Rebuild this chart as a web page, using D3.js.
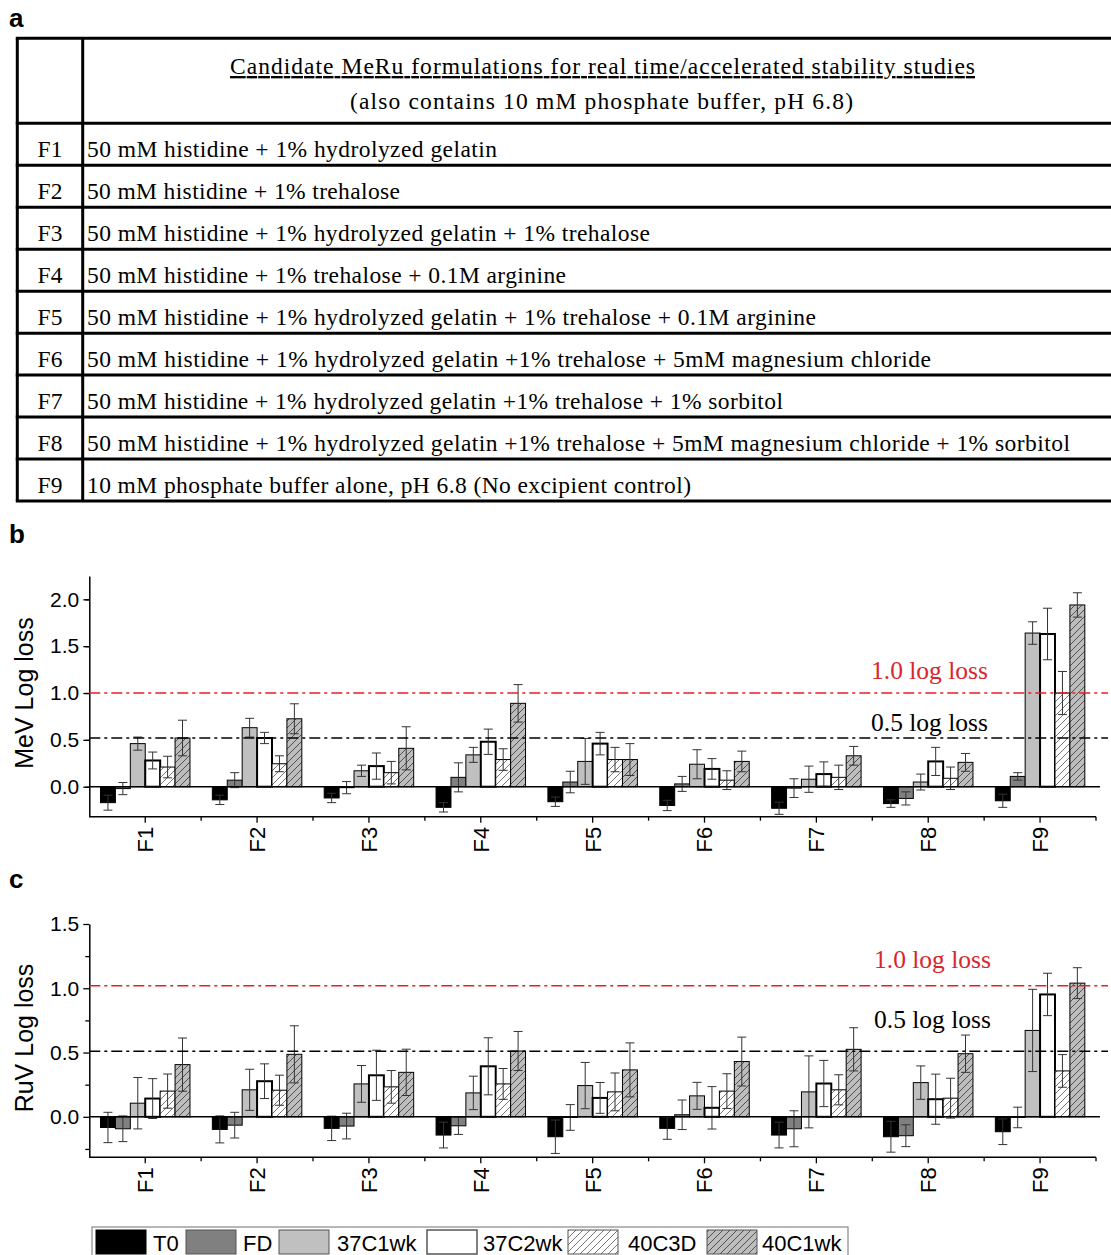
<!DOCTYPE html>
<html>
<head>
<meta charset="utf-8">
<script src="https://cdn.jsdelivr.net/npm/d3@7"></script>
<style>
  body { margin: 0; background: #fff; }
  svg { display: block; }
</style>
</head>
<body>
<svg id="fig" width="1111" height="1255"></svg>
<script>
// formulations and the storage conditions (series)
var categories = ["F1", "F2", "F3", "F4", "F5", "F6", "F7", "F8", "F9"];
var series = ["T0", "FD", "37C1wk", "37C2wk", "40C3D", "40C1wk"];

var formulations = [
  "50 mM histidine + 1% hydrolyzed gelatin",
  "50 mM histidine + 1% trehalose",
  "50 mM histidine + 1% hydrolyzed gelatin + 1% trehalose",
  "50 mM histidine + 1% trehalose + 0.1M arginine",
  "50 mM histidine + 1% hydrolyzed gelatin + 1% trehalose + 0.1M arginine",
  "50 mM histidine + 1% hydrolyzed gelatin +1% trehalose + 5mM magnesium chloride",
  "50 mM histidine + 1% hydrolyzed gelatin +1% trehalose + 1% sorbitol",
  "50 mM histidine + 1% hydrolyzed gelatin +1% trehalose + 5mM magnesium chloride + 1% sorbitol",
  "10 mM phosphate buffer alone, pH 6.8 (No excipient control)"
];
var formulationWidths = [410, 313, 563, 479, 729, 844, 696, 983, 604];
var headerTitle = "Candidate MeRu formulations  for real time/accelerated  stability  studies";
var headerSub = "(also contains 10 mM phosphate buffer, pH 6.8)";

// panel b: MeV log loss, one row per series, one value per formulation
var mevMean = [
  [-0.17, -0.14, -0.12, -0.22, -0.16, -0.20, -0.23, -0.18, -0.15],
  [-0.02,  0.07, -0.01,  0.10,  0.05,  0.03, -0.015, -0.125, 0.11],
  [ 0.46,  0.63,  0.17,  0.34,  0.27,  0.24,  0.08,  0.05,  1.64],
  [ 0.28,  0.52,  0.22,  0.48,  0.46,  0.19,  0.135, 0.27,  1.63],
  [ 0.21,  0.245, 0.15,  0.29,  0.29,  0.07,  0.10,  0.09,  1.00],
  [ 0.52,  0.725, 0.41,  0.89,  0.29,  0.27,  0.33,  0.26,  1.94]
];
var mevErr = [
  [0.08, 0.05, 0.05, 0.05, 0.05, 0.055, 0.065, 0.04, 0.07],
  [0.065, 0.08, 0.065, 0.155, 0.115, 0.08, 0.10, 0.07, 0.04],
  [0.07, 0.10, 0.06, 0.08, 0.245, 0.155, 0.14, 0.085, 0.12],
  [0.09, 0.06, 0.14, 0.135, 0.12, 0.11, 0.13, 0.15, 0.275],
  [0.115, 0.085, 0.12, 0.115, 0.13, 0.10, 0.13, 0.12, 0.23],
  [0.19, 0.16, 0.23, 0.20, 0.17, 0.11, 0.10, 0.095, 0.13]
];

// panel c: RuV log loss
var ruvMean = [
  [-0.083, -0.098, -0.09, -0.142, -0.155, -0.09, -0.142, -0.155, -0.116],
  [-0.093, -0.065, -0.072, -0.07, -0.005, 0.016, -0.093, -0.147, -0.005],
  [ 0.106,  0.21,  0.256, 0.186, 0.243, 0.163, 0.194, 0.266, 0.672],
  [ 0.142,  0.277, 0.323, 0.393, 0.147, 0.07,  0.259, 0.137, 0.952],
  [ 0.20,   0.207, 0.233, 0.256, 0.194, 0.20,  0.21,  0.145, 0.357],
  [ 0.406,  0.486, 0.346, 0.512, 0.365, 0.43,  0.525, 0.491, 1.04]
];
var ruvErr = [
  [0.118, 0.105, 0.095, 0.10, 0.13, 0.085, 0.10, 0.12, 0.10],
  [0.10, 0.10, 0.10, 0.067, 0.10, 0.115, 0.14, 0.085, 0.08],
  [0.20, 0.16, 0.143, 0.13, 0.18, 0.105, 0.28, 0.13, 0.32],
  [0.155, 0.135, 0.195, 0.222, 0.12, 0.165, 0.18, 0.195, 0.165],
  [0.133, 0.117, 0.127, 0.12, 0.147, 0.135, 0.117, 0.155, 0.127],
  [0.207, 0.222, 0.18, 0.152, 0.21, 0.19, 0.168, 0.145, 0.12]
];

var mevTicks = [0, 0.5, 1.0, 1.5, 2.0];
var ruvTicks = [0, 0.5, 1.0, 1.5];

var svg = d3.select("#fig");
var sans = "'Liberation Sans', Arial, sans-serif";
var serif = "'Liberation Serif', 'Times New Roman', serif";

// hatch patterns
var defs = svg.append("defs");
function hatch(id, bg, line) {
  var p = defs.append("pattern").attr("id", id)
    .attr("patternUnits", "userSpaceOnUse").attr("width", 7).attr("height", 7);
  p.append("rect").attr("width", 7).attr("height", 7).attr("fill", bg);
  p.append("path").attr("d", "M0,7 L7,0 M-1,1 L1,-1 M6,8 L8,6")
    .attr("stroke", line).attr("stroke-width", 0.9);
}
hatch("h3d", "#ffffff", "#666");
hatch("h1wk", "#bdbdbd", "#444");

var fills = ["#000000", "#808080", "#c0c0c0", "#ffffff", "url(#h3d)", "url(#h1wk)"];
var strokeW = [1, 1, 1, 2, 1, 1];

// panel labels
[["a", 27], ["b", 543], ["c", 888]].forEach(function (d) {
  svg.append("text").attr("x", 9).attr("y", d[1]).text(d[0])
    .style("font-family", sans).style("font-weight", "bold").style("font-size", "26px");
});

// ---- table (panel a) ----
var tbl = svg.append("g");
var rowTop = 123.3, rowH = 41.97, tLeft = 17.3, tCol = 82.7, tRight = 1111;
var hLines = [38.3].concat(d3.range(10).map(function (i) { return rowTop + i * rowH; }));
tbl.selectAll("line.h").data(hLines).enter().append("line")
  .attr("x1", tLeft - 1.5).attr("x2", tRight).attr("y1", function (d) { return d; }).attr("y2", function (d) { return d; })
  .attr("stroke", "#000").attr("stroke-width", 3);
[tLeft, tCol].forEach(function (x) {
  tbl.append("line").attr("x1", x).attr("x2", x).attr("y1", 38.3).attr("y2", rowTop + 9 * rowH)
    .attr("stroke", "#000").attr("stroke-width", 3);
});
tbl.append("text").attr("x", 230).attr("y", 74).text(headerTitle)
  .attr("textLength", 745).attr("lengthAdjust", "spacing")
  .style("font-family", serif).style("font-size", "23.5px").style("text-decoration", "underline");
tbl.append("text").attr("x", 350).attr("y", 109).text(headerSub)
  .attr("textLength", 503).attr("lengthAdjust", "spacing")
  .style("font-family", serif).style("font-size", "23.5px");
categories.forEach(function (c, i) {
  var base = rowTop + i * rowH + 34;
  tbl.append("text").attr("x", 50).attr("y", base).attr("text-anchor", "middle").text(c)
    .style("font-family", serif).style("font-size", "23.5px");
  tbl.append("text").attr("x", 87).attr("y", base).text(formulations[i])
    .attr("textLength", formulationWidths[i]).attr("lengthAdjust", "spacing")
    .style("font-family", serif).style("font-size", "23.5px");
});

// ---- bar panels ----
function panel(opts) {
  var g = svg.append("g");
  var x0 = d3.scaleBand().domain(categories).range([89.3, 1096]);
  var bw = x0.bandwidth();
  var x1 = d3.scaleBand().domain(series).range([bw * 0.1, bw * 0.9]);
  var y = d3.scaleLinear().domain(opts.domain).range(opts.range);

  // y axis: labelled majors + minor ticks
  var minors = d3.range(opts.domain[1] - 0.25, opts.domain[0], -0.5).filter(function (v) { return v > opts.domain[0]; });
  g.append("g").attr("transform", "translate(89.3,0)")
    .call(d3.axisLeft(y).tickValues(minors).tickSize(4).tickFormat(""))
    .call(function (s) { s.select(".domain").remove(); s.selectAll("line").attr("stroke-width", 1.3); });
  var ya = g.append("g").attr("transform", "translate(89.3,0)")
    .call(d3.axisLeft(y).tickValues(opts.ticks).tickSize(6).tickSizeOuter(0).tickPadding(4).tickFormat(d3.format(".1f")));
  ya.select(".domain").attr("stroke-width", 1.5);
  ya.selectAll("line").attr("stroke-width", 1.3);
  ya.selectAll("text").style("font-family", sans).style("font-size", "21px").attr("fill", "#000");

  // x axis at bottom
  var yb = opts.range[0];
  g.append("line").attr("x1", 89.3).attr("x2", 1096).attr("y1", yb).attr("y2", yb)
    .attr("stroke", "#000").attr("stroke-width", 1.5);
  g.selectAll("line.cb").data(categories).enter().append("line")
    .attr("x1", function (d) { return x0(d) + bw; }).attr("x2", function (d) { return x0(d) + bw; })
    .attr("y1", yb).attr("y2", yb + 4).attr("stroke", "#000").attr("stroke-width", 1.3);
  g.selectAll("line.cm").data(categories).enter().append("line")
    .attr("x1", function (d) { return x0(d) + bw / 2; }).attr("x2", function (d) { return x0(d) + bw / 2; })
    .attr("y1", yb).attr("y2", yb + 6).attr("stroke", "#000").attr("stroke-width", 1.3);
  g.selectAll("text.cl").data(categories).enter().append("text")
    .attr("transform", function (d) { return "translate(" + (x0(d) + bw / 2) + "," + (yb + 10) + ") rotate(-90)"; })
    .attr("text-anchor", "end").attr("dy", "0.36em").text(function (d) { return d; })
    .style("font-family", sans).style("font-size", "22px");

  // y label
  g.append("text").attr("transform", "translate(33," + opts.labelY + ") rotate(-90)")
    .attr("text-anchor", "middle").text(opts.label)
    .style("font-family", sans).style("font-size", "25px");

  // bars
  series.forEach(function (s, si) {
    var vals = opts.mean[si];
    g.selectAll("rect.s" + si).data(categories).enter().append("rect")
      .attr("x", function (c) { return x0(c) + x1(s); })
      .attr("width", x1.bandwidth())
      .attr("y", function (c, i) { return Math.min(y(vals[i]), y(0)); })
      .attr("height", function (c, i) { return Math.abs(y(vals[i]) - y(0)); })
      .attr("fill", fills[si]).attr("stroke", "#000").attr("stroke-width", strokeW[si]);
  });

  // error bars
  series.forEach(function (s, si) {
    var vals = opts.mean[si], errs = opts.err[si];
    categories.forEach(function (c, i) {
      var cx = x0(c) + x1(s) + x1.bandwidth() / 2;
      var lo = y(vals[i] - errs[i]), hi = y(vals[i] + errs[i]);
      var eg = g.append("g").attr("stroke", "#333").attr("stroke-width", 1);
      eg.append("line").attr("x1", cx).attr("x2", cx).attr("y1", lo).attr("y2", hi);
      eg.append("line").attr("x1", cx - 4.5).attr("x2", cx + 4.5).attr("y1", lo).attr("y2", lo);
      eg.append("line").attr("x1", cx - 4.5).attr("x2", cx + 4.5).attr("y1", hi).attr("y2", hi);
    });
  });

  // zero line
  g.append("line").attr("x1", 89.3).attr("x2", 1100).attr("y1", y(0)).attr("y2", y(0))
    .attr("stroke", "#000").attr("stroke-width", 1.5);

  // threshold lines
  g.append("line").attr("x1", 89.3).attr("x2", 1108).attr("y1", y(opts.red)).attr("y2", y(opts.red))
    .attr("stroke", "#ec1c24").attr("stroke-width", 1.5).attr("stroke-dasharray", "11,4,3,4");
  g.append("line").attr("x1", 89.3).attr("x2", 1108).attr("y1", y(opts.black)).attr("y2", y(opts.black))
    .attr("stroke", "#000").attr("stroke-width", 1.5).attr("stroke-dasharray", "11,4,3,4");
  g.append("text").attr("x", opts.noteX).attr("y", y(opts.red) - opts.redOff).text("1.0 log loss")
    .attr("fill", "#d7262c").style("font-family", serif).style("font-size", "25.5px");
  g.append("text").attr("x", opts.noteX).attr("y", y(opts.black) - opts.blackOff).text("0.5 log loss")
    .attr("fill", "#000").style("font-family", serif).style("font-size", "25.5px");
}

panel({ domain: [-0.32, 2.25], range: [816.7, 575.9], ticks: mevTicks, mean: mevMean, err: mevErr,
  label: "MeV Log loss", labelY: 693, red: 1.0, black: 0.52, noteX: 871, redOff: 14, blackOff: 7 });
panel({ domain: [-0.315, 1.5], range: [1157.3, 924], ticks: ruvTicks, mean: ruvMean, err: ruvErr,
  label: "RuV Log loss", labelY: 1038, red: 1.02, black: 0.51, noteX: 874, redOff: 18, blackOff: 23 });

// ---- legend ----
var lg = svg.append("g");
lg.append("rect").attr("x", 92).attr("y", 1227).attr("width", 756).attr("height", 40)
  .attr("fill", "#fff").attr("stroke", "#888").attr("stroke-width", 1.2);
var swatchX = [96, 186, 279, 427, 568, 707];
var labelX = [153, 243, 337, 483, 628, 762];
series.forEach(function (s, si) {
  lg.append("rect").attr("x", swatchX[si]).attr("y", 1230).attr("width", 50).attr("height", 24)
    .attr("fill", fills[si]).attr("stroke", si === 0 ? "#000" : "#555").attr("stroke-width", si === 3 ? 1.5 : 1);
  lg.append("text").attr("x", labelX[si]).attr("y", 1251).text(s)
    .style("font-family", sans).style("font-size", "22px");
});
</script>
</body>
</html>
